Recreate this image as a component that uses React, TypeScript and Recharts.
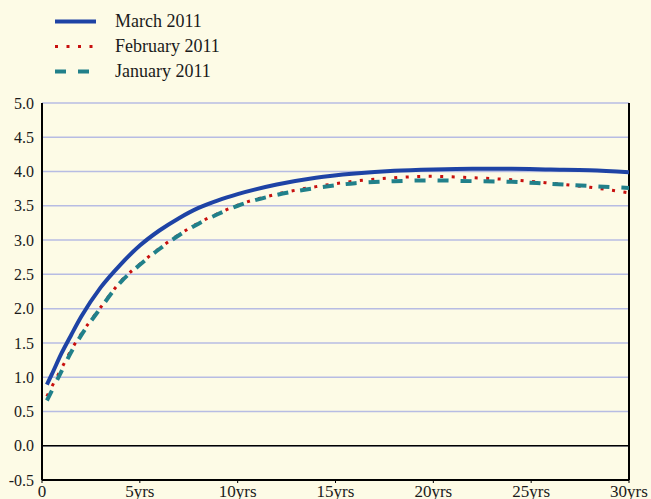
import React from "react";
import {
  LineChart,
  Line,
  XAxis,
  YAxis,
  CartesianGrid,
  ReferenceLine,
} from "recharts";

// maturity in years
const maturities = [
  0.25, 0.5, 1, 1.5, 2, 3, 4, 5, 6, 7, 8, 9, 10, 12, 14, 16, 18, 20, 22, 24, 26,
  28, 30,
];

const march2011 = [
  0.89, 1.04, 1.35, 1.62, 1.88, 2.31, 2.64, 2.92, 3.14, 3.32, 3.47, 3.58, 3.67,
  3.81, 3.91, 3.97, 4.01, 4.03, 4.04, 4.04, 4.03, 4.02, 3.99,
];

const february2011 = [
  0.72, 0.86, 1.13, 1.4, 1.63, 2.02, 2.39, 2.65, 2.88, 3.08, 3.25, 3.39, 3.51,
  3.67, 3.78, 3.86, 3.91, 3.93, 3.91, 3.88, 3.83, 3.77, 3.69,
];

const january2011 = [
  0.66, 0.8, 1.09, 1.37, 1.61, 2.01, 2.38, 2.64, 2.87, 3.07, 3.24, 3.38, 3.5,
  3.66, 3.76, 3.83, 3.86, 3.87, 3.86, 3.85, 3.82, 3.79, 3.76,
];

const xTicks = [0, 5, 10, 15, 20, 25, 30];
const yTicks = [-0.5, 0, 0.5, 1, 1.5, 2, 2.5, 3, 3.5, 4, 4.5, 5];

const data = maturities.map((m, i) => ({
  m,
  mar: march2011[i],
  feb: february2011[i],
  jan: january2011[i],
}));

const BG = "#fdfbe6";
const FONT = "'Liberation Serif', 'Times New Roman', serif";

const series = [
  { key: "mar", name: "March 2011", color: "#1e43a5", width: 4, dash: undefined as string | undefined },
  { key: "feb", name: "February 2011", color: "#c8100e", width: 3, dash: "3 8.5" },
  { key: "jan", name: "January 2011", color: "#21808a", width: 4, dash: "11 12" },
];

function LegendBox() {
  return (
    <div style={{ position: "absolute", left: 0, top: 0 }}>
      {series.map((s, i) => (
        <div
          key={s.key}
          style={{
            position: "absolute",
            left: 0,
            top: 9 + i * 25,
            height: 25,
            display: "flex",
            alignItems: "center",
            whiteSpace: "nowrap",
          }}
        >
          <svg width={112} height={25} style={{ display: "block" }}>
            <line
              x1={55}
              x2={96}
              y1={12.5}
              y2={12.5}
              stroke={s.color}
              strokeWidth={s.width}
              strokeDasharray={s.dash}
            />
          </svg>
          <span
            style={{
              marginLeft: 3,
              fontFamily: FONT,
              fontSize: 18,
              color: "#1a1a1a",
            }}
          >
            {s.name}
          </span>
        </div>
      ))}
    </div>
  );
}

export default function App() {
  return (
    <div
      style={{
        position: "absolute",
        left: 0,
        top: 0,
        width: 651,
        height: 499,
        background: BG,
        overflow: "hidden",
      }}
    >
      <LegendBox />
      <LineChart
        width={651}
        height={499}
        data={data}
        margin={{ top: 103, right: 22, bottom: 0, left: 0 }}
      >
        <CartesianGrid
          horizontal
          vertical={false}
          stroke="#b7bce3"
          strokeWidth={1.5}
        />
        <XAxis
          dataKey="m"
          type="number"
          domain={[0, 30]}
          ticks={xTicks}
          height={19}
          tickFormatter={(v: number) => (v === 0 ? "0" : `${v}yrs`)}
          axisLine={{ stroke: "#000", strokeWidth: 2 }}
          tickLine={{ stroke: "#000" }}
          tickSize={3}
          tickMargin={2}
          tick={{ fill: "#1a1a1a", fontSize: 17, fontFamily: FONT }}
          interval={0}
        />
        <YAxis
          type="number"
          domain={[-0.5, 5]}
          ticks={yTicks}
          width={42}
          tickFormatter={(v: number) => v.toFixed(1)}
          axisLine={{ stroke: "#000", strokeWidth: 2 }}
          tickLine={false}
          tickSize={6}
          tickMargin={2}
          tick={{ fill: "#1a1a1a", fontSize: 16, fontFamily: FONT }}
          interval={0}
        />
        <ReferenceLine y={0} stroke="#000" strokeWidth={1.5} />
        <ReferenceLine x={30} stroke="#000" strokeWidth={2} />
        {series.map((s) => (
          <Line
            key={s.key}
            dataKey={s.key}
            name={s.name}
            type="monotone"
            stroke={s.color}
            strokeWidth={s.width}
            strokeDasharray={s.dash}
            dot={false}
            activeDot={false}
            isAnimationActive={false}
          />
        ))}
      </LineChart>
    </div>
  );
}
